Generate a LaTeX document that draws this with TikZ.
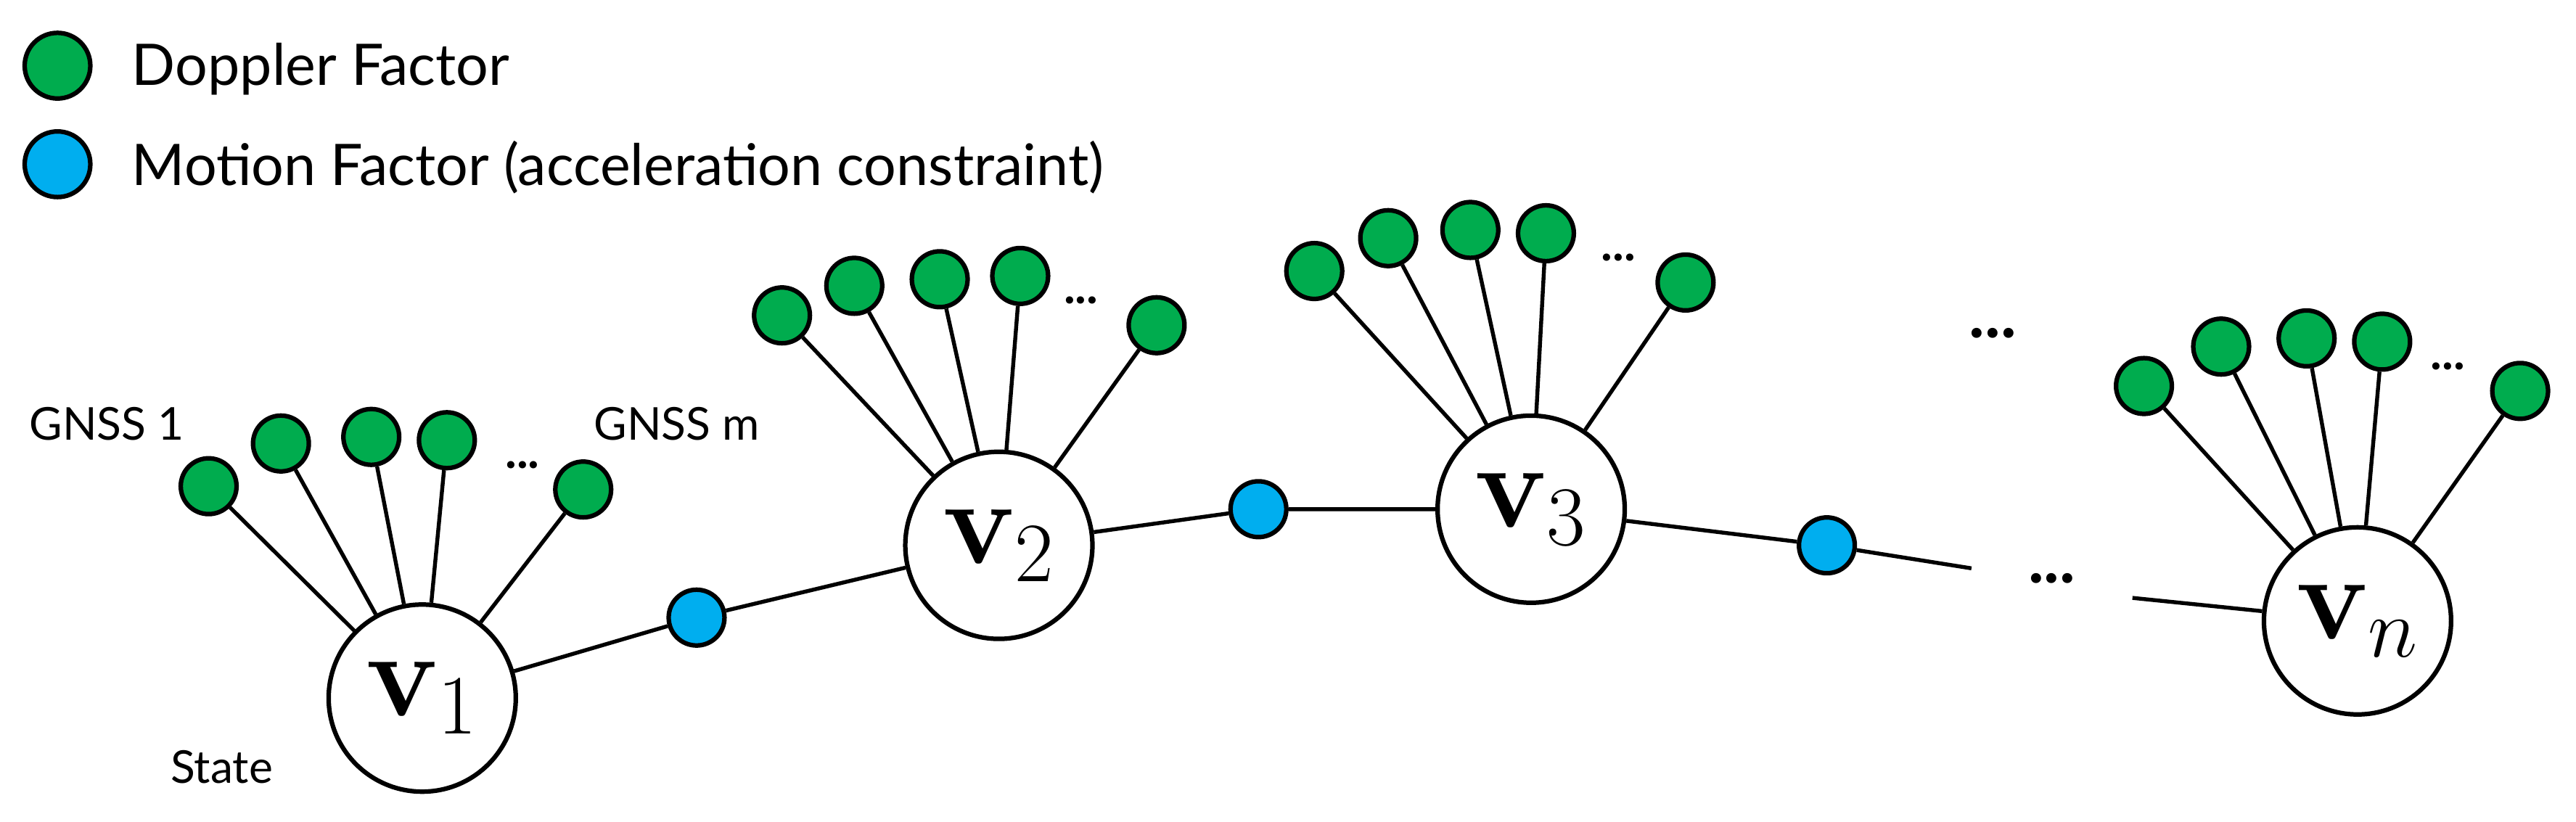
\documentclass[tikz,border=0pt]{standalone}
\usepackage{fix-cm}
\usepackage[no-math]{fontspec}
\setmainfont{Lato}
\usepackage{amsmath}
\definecolor{gfac}{HTML}{00AC4E}
\definecolor{bfac}{HTML}{00AEEF}
\begin{document}
\begin{tikzpicture}[x=0.01913cm,y=-0.01913cm,
  st/.style={circle,draw,line width=1.5pt,fill=white,minimum size=114*0.544pt,inner sep=0pt,font=\fontsize{40}{44}\selectfont},
  gf/.style={circle,draw,line width=1.5pt,fill=gfac,minimum size=34*0.544pt,inner sep=0pt},
  bf/.style={circle,draw,line width=1.5pt,fill=bfac,minimum size=34*0.544pt,inner sep=0pt},
  ln/.style={line width=1.3pt},
  lbl/.style={font=\fontsize{15}{18}\selectfont,inner sep=0pt},
  leg/.style={font=\fontsize{19}{22}\selectfont,anchor=west,inner sep=0pt},
  dts/.style={font=\fontsize{22}{22}\selectfont\bfseries,inner sep=0pt},
  sdts/.style={font=\fontsize{16}{16}\selectfont\bfseries,inner sep=0pt}]
\useasboundingbox (0,0) rectangle (1568,500);
% legend
\node[gf,minimum size=40*0.544pt] (lg) at (35,40) {};
\node[leg] (lgt) at (80,42) {Doppler Factor};
\node[bf,minimum size=40*0.544pt] (lb) at (35,100) {};
\node[leg] (lbt) at (80,102) {Motion Factor (acceleration constraint)};
% states
\node[st] (v1) at (257,425) {$\mathbf{v}_1$};
\node[st] (v2) at (608,332) {$\mathbf{v}_2$};
\node[st] (v3) at (932,310) {$\mathbf{v}_3$};
\node[st] (vn) at (1435,378) {$\mathbf{v}_n$};
% motion factors
\node[bf] (b1) at (424,376) {};
\node[bf] (b2) at (766,310) {};
\node[bf] (b3) at (1112,332) {};
\coordinate (e1) at (1200,346);
\coordinate (e2) at (1298,364);
\node[dts] (dm) at (1249,352) {...};
\node[dts] (dtop) at (1213,203) {...};
\draw[ln] (v1)--(b1)--(v2)--(b2)--(v3)--(b3)--(e1);
\draw[ln] (e2)--(vn);
% green factor groups
\foreach \s/\ax/\ay/\bx/\by/\cx/\cy/\dx/\dy/\ex/\ey/\tx/\ty in {
  v1/127/296/171/270/226/266/272/268/355/298/318/283,
  v2/476/192/520/174/572/170/621/168/704/198/658/183,
  v3/800/165/845/145/895/140/941/142/1026/172/985/157,
  vn/1305/235/1352/211/1404/206/1450/208/1534/238/1490/223}{
  \node[gf] (\s a) at (\ax,\ay) {};
  \node[gf] (\s b) at (\bx,\by) {};
  \node[gf] (\s c) at (\cx,\cy) {};
  \node[gf] (\s d) at (\dx,\dy) {};
  \node[gf] (\s e) at (\ex,\ey) {};
  \node[sdts] (\s t) at (\tx,\ty) {...};
  \foreach \k in {a,b,c,d,e}{\draw[ln] (\s\k)--(\s);}
}
\node[lbl] (g1) at (65,258) {GNSS 1};
\node[lbl] (gm) at (412,258) {GNSS m};
\node[lbl] (stl) at (135,467) {State};
\end{tikzpicture}
\end{document}
